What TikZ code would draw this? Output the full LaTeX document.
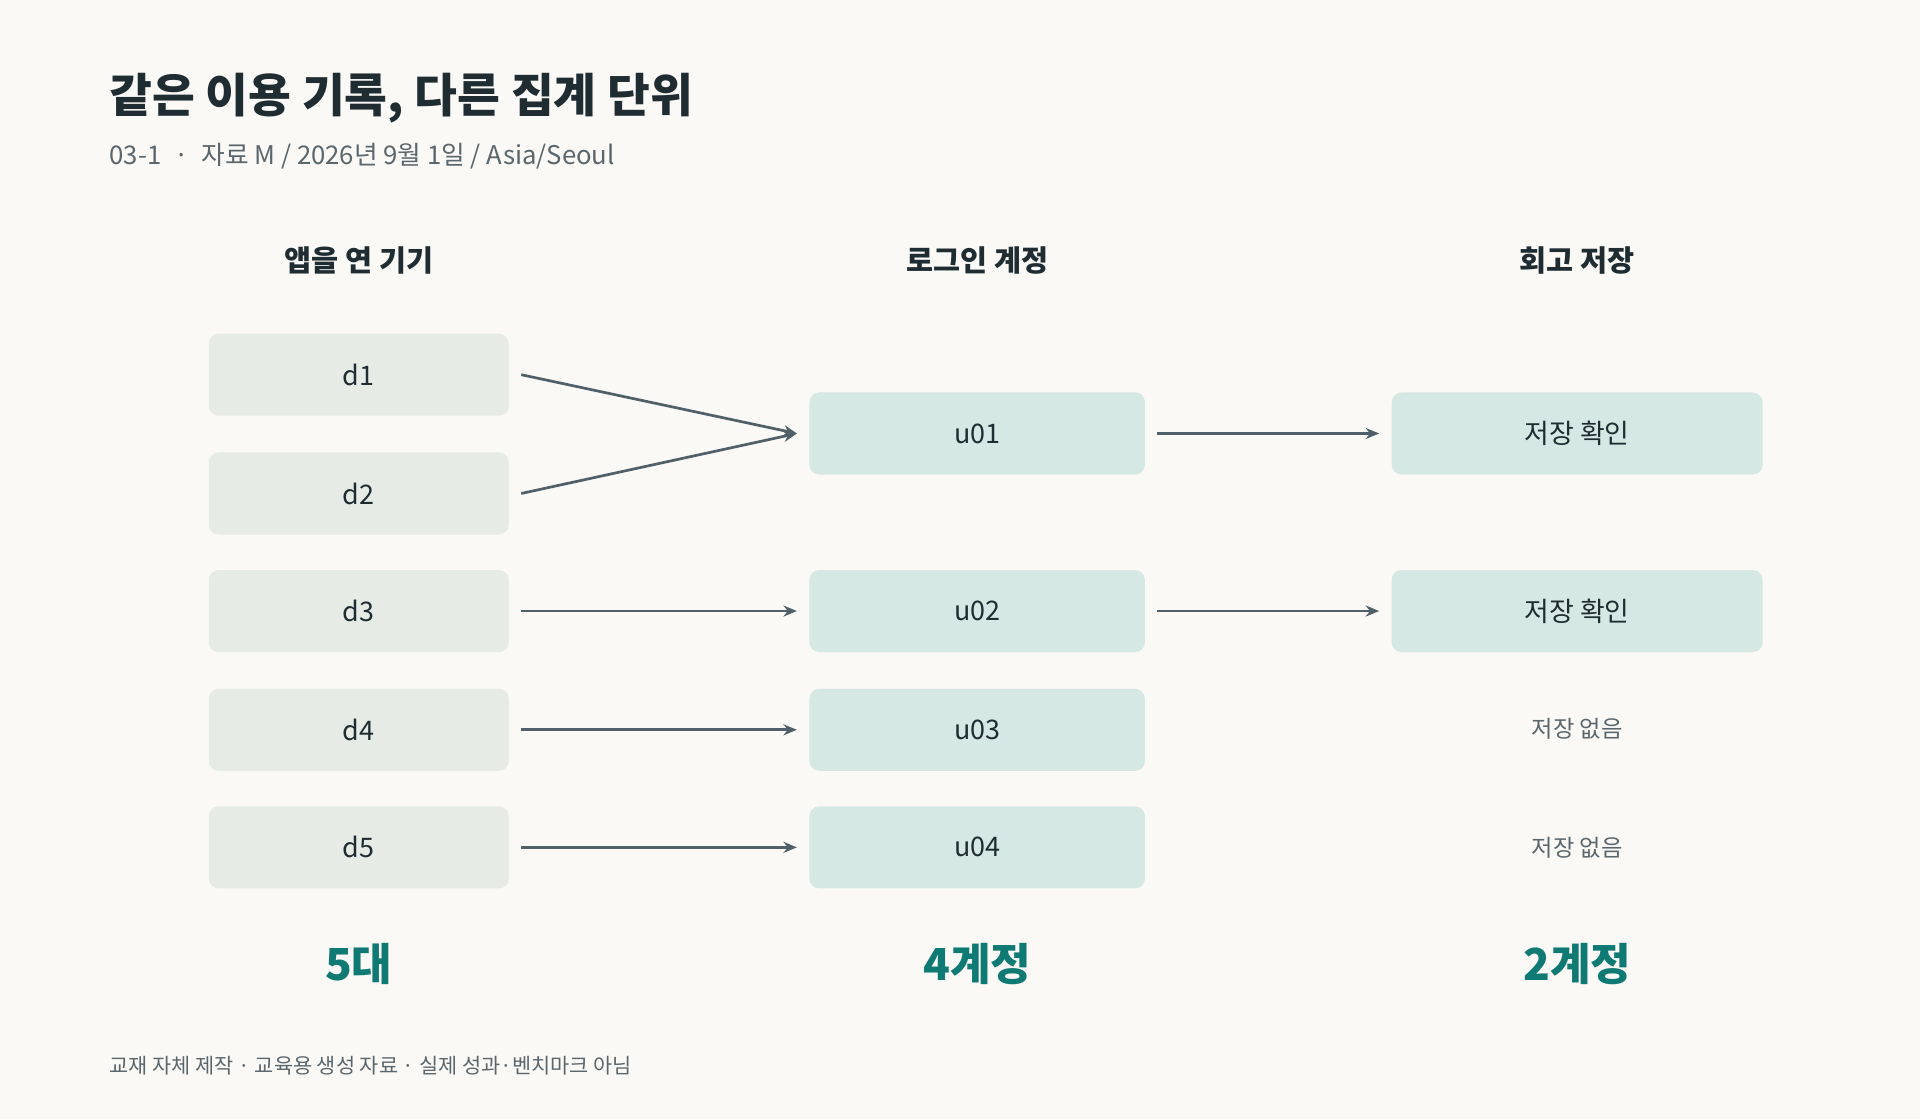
\documentclass[tikz,border=0pt]{standalone}
\usepackage{fontspec}
\setmainfont{Noto Sans CJK KR}
\usetikzlibrary{arrows.meta}
\definecolor{bg}{HTML}{FAF9F6}
\definecolor{ink}{HTML}{1F2D33}
\definecolor{sub}{HTML}{5A666C}
\definecolor{dev}{HTML}{E7EBE6}
\definecolor{acc}{HTML}{D6E8E3}
\definecolor{arr}{HTML}{4F6069}
\definecolor{teal}{HTML}{0F7A73}
\tikzset{
 x=1pt,y=-1pt,
 box/.style={rounded corners=8pt,minimum height=67pt,inner sep=0pt,font=\fontsize{22}{26}\selectfont,text=ink},
 dbox/.style={box,fill=dev,minimum width=245pt},
 ubox/.style={box,fill=acc,minimum width=274pt},
 sbox/.style={box,fill=acc,minimum width=303pt},
 none/.style={font=\fontsize{19}{23}\selectfont,text=sub},
 head/.style={font=\fontsize{24}{28}\selectfont\bfseries,text=ink},
 count/.style={font=\fontsize{36}{40}\selectfont\bfseries,text=teal},
 con/.style={draw=arr,line width=2.2pt,-{Stealth[length=11pt,width=9pt]}}
}
\begin{document}
\begin{tikzpicture}
\fill[bg] (0,0) rectangle (1568,914);
\useasboundingbox (0,0) rectangle (1568,914);
\node[anchor=base west,font=\fontsize{38}{44}\selectfont\bfseries,text=ink] (title) at (86,92) {같은 이용 기록, 다른 집계 단위};
\node[anchor=base west,font=\fontsize{21}{25}\selectfont,text=sub] (subt) at (86,134) {03-1\enspace·\enspace 자료 M / 2026년 9월 1일 / Asia/Seoul};
\node[head] (h1) at (293,213) {앱을 연 기기};
\node[head] (h2) at (798,213) {로그인 계정};
\node[head] (h3) at (1288,213) {회고 저장};
\node[dbox] (d1) at (293,306) {d1};
\node[dbox] (d2) at (293,403) {d2};
\node[dbox] (d3) at (293,499) {d3};
\node[dbox] (d4) at (293,596) {d4};
\node[dbox] (d5) at (293,692) {d5};
\node[ubox] (u1) at (798,354) {u01};
\node[ubox] (u2) at (798,499) {u02};
\node[ubox] (u3) at (798,596) {u03};
\node[ubox] (u4) at (798,692) {u04};
\node[sbox] (s1) at (1288,354) {저장 확인};
\node[sbox] (s2) at (1288,499) {저장 확인};
\node[none] (n3) at (1288,595) {저장 없음};
\node[none] (n4) at (1288,692) {저장 없음};
\draw[con] ([xshift=10pt]d1.east) -- ([xshift=-10pt]u1.west);
\draw[con] ([xshift=10pt]d2.east) -- ([xshift=-10pt]u1.west);
\draw[con] ([xshift=10pt]d3.east) -- ([xshift=-10pt]u2.west);
\draw[con] ([xshift=10pt]d4.east) -- ([xshift=-10pt]u3.west);
\draw[con] ([xshift=10pt]d5.east) -- ([xshift=-10pt]u4.west);
\draw[con] ([xshift=10pt]u1.east) -- ([xshift=-10pt]s1.west);
\draw[con] ([xshift=10pt]u2.east) -- ([xshift=-10pt]s2.west);
\node[count] (c1) at (293,787) {5대};
\node[count] (c2) at (798,787) {4계정};
\node[count] (c3) at (1288,787) {2계정};
\node[anchor=base west,font=\fontsize{17}{20}\selectfont,text=sub] (foot) at (86,877) {교재 자체 제작 · 교육용 생성 자료 · 실제 성과·벤치마크 아님};
\end{tikzpicture}
\end{document}
